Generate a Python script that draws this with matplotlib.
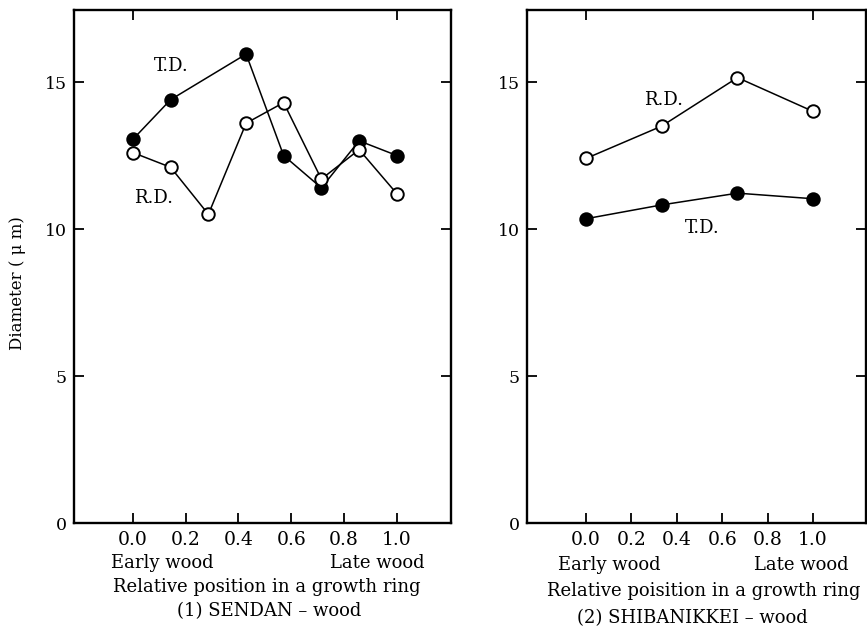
import matplotlib.pyplot as plt

# (1) SENDAN - wood
sendan_td_x = [0.0, 0.143, 0.429, 0.571, 0.714, 0.857, 1.0]
sendan_td = [13.05, 14.4, 15.95, 12.5, 11.4, 13.0, 12.5]
sendan_rd_x = [0.0, 0.143, 0.286, 0.429, 0.571, 0.714, 0.857, 1.0]
sendan_rd = [12.6, 12.1, 10.5, 13.6, 14.3, 11.7, 12.7, 11.2]

# (2) SHIBANIKKEI - wood
shiba_x = [0.0, 0.333, 0.667, 1.0]
shiba_rd = [12.4, 13.5, 15.15, 14.0]
shiba_td = [10.35, 10.82, 11.22, 11.03]

xticks = [0.0, 0.2, 0.4, 0.6, 0.8, 1.0]
xtick_labels = ['0.0', '0.2', '0.4', '0.6', '0.8', '1.0']
yticks = [0, 5, 10, 15]

plt.rcParams['font.family'] = ['DejaVu Serif']

W, H = 867, 633
fig = plt.figure(figsize=(W / 100, H / 100), dpi=100)
FS = 13


def px(x, y):
    return x / W, 1 - y / H


def make_axes(x0, x1, xlim):
    ax = fig.add_axes([x0 / W, 1 - 523 / H, (x1 - x0) / W, 513 / H])
    ax.set_xlim(xlim)
    ax.set_ylim(0, 17.45)
    ax.set_xticks(xticks)
    ax.set_xticklabels(xtick_labels, fontsize=13.5)
    ax.set_yticks(yticks)
    ax.set_yticklabels([str(v) for v in yticks], fontsize=12.5)
    ax.tick_params(direction='in', length=7, width=1.3, right=True, pad=5)
    ax.tick_params(axis='x', pad=6)
    for s in ax.spines.values():
        s.set_linewidth(1.7)
    top = ax.secondary_xaxis('top')
    top.set_xticks([0.0, 1.0])
    top.set_xticklabels(['', ''])
    top.tick_params(direction='in', length=7, width=1.3)
    top.spines['top'].set_visible(False)
    return ax


def plot_series(ax, x, y, filled):
    ax.plot(x, y, color='black', linewidth=1.1, marker='o', markersize=9,
            markerfacecolor='black' if filled else 'white',
            markeredgecolor='black', markeredgewidth=1.4, clip_on=False)


# left panel
ax1 = make_axes(74, 451, (-0.223, 1.205))
plot_series(ax1, sendan_td_x, sendan_td, True)
plot_series(ax1, sendan_rd_x, sendan_rd, False)
ax1.text(0.145, 15.55, 'T.D.', fontsize=FS, ha='center', va='center')
ax1.text(0.08, 11.05, 'R.D.', fontsize=FS, ha='center', va='center')

# right panel
ax2 = make_axes(527, 866, (-0.26, 1.233))
plot_series(ax2, shiba_x, shiba_rd, False)
plot_series(ax2, shiba_x, shiba_td, True)
ax2.text(0.34, 14.4, 'R.D.', fontsize=FS, ha='center', va='center')
ax2.text(0.51, 10.05, 'T.D.', fontsize=FS, ha='center', va='center')

fig.text(*px(18, 283), 'Diameter ( μ m)', rotation=90, fontsize=12,
         ha='center', va='center')

# captions under left panel
fig.text(*px(162, 563), 'Early wood', fontsize=FS, ha='center', va='center')
fig.text(*px(377, 563), 'Late wood', fontsize=FS, ha='center', va='center')
fig.text(*px(267, 587), 'Relative position in a growth ring', fontsize=FS,
         ha='center', va='center')
fig.text(*px(269, 611), '(1) SENDAN – wood', fontsize=FS, ha='center', va='center')

# captions under right panel
fig.text(*px(609, 565), 'Early wood', fontsize=FS, ha='center', va='center')
fig.text(*px(801, 565), 'Late wood', fontsize=FS, ha='center', va='center')
fig.text(*px(547, 591), 'Relative poisition in a growth ring', fontsize=FS,
         ha='left', va='center')
fig.text(*px(692, 618), '(2) SHIBANIKKEI – wood', fontsize=FS, ha='center', va='center')

fig.savefig('out.png', dpi=100)
